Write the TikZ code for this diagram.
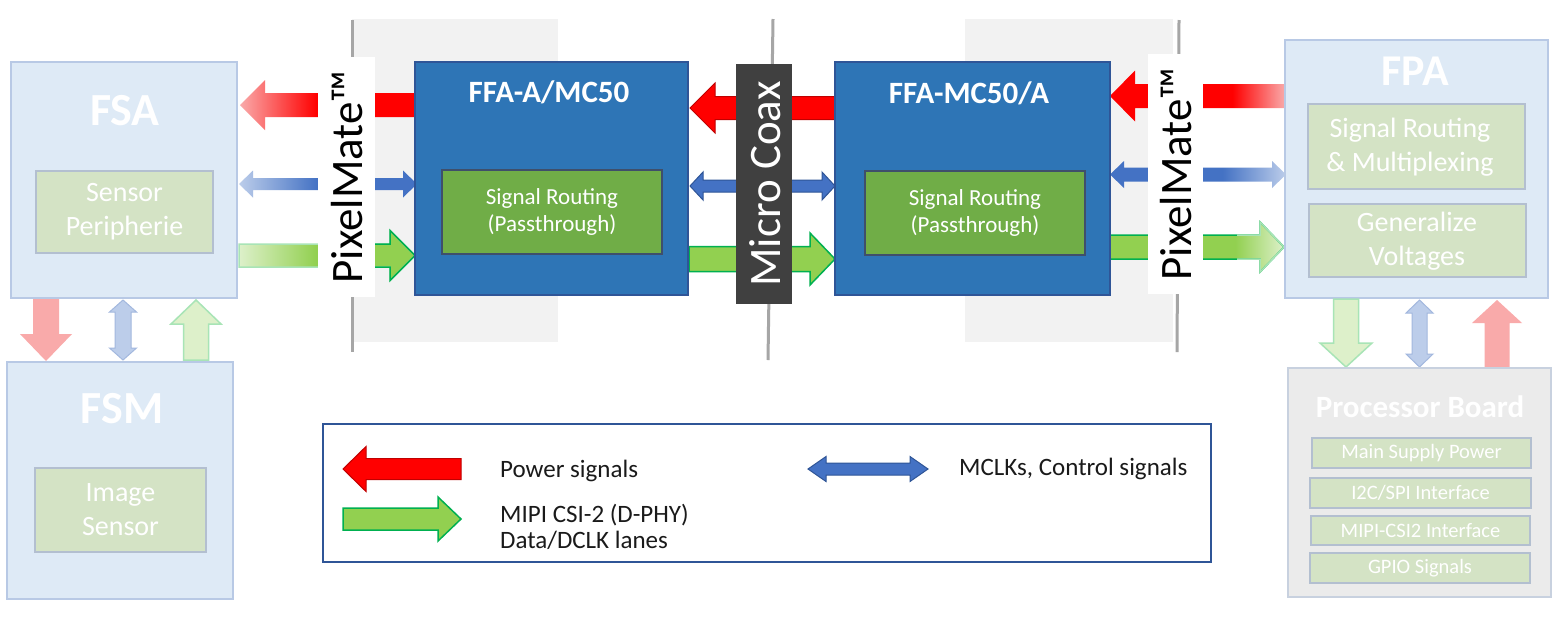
\documentclass[tikz,border=0pt]{standalone}
\usepackage{fontspec}
\setmainfont{Carlito}
\definecolor{lbfill}{HTML}{DEEAF6}
\definecolor{lbdraw}{HTML}{B8C9E5}
\definecolor{lgfill}{HTML}{D4E3C5}
\definecolor{lgdraw}{HTML}{B3BFD0}
\definecolor{pbfill}{HTML}{EBEBEB}
\definecolor{pbdraw}{HTML}{C8D1DF}
\definecolor{ffafill}{HTML}{2E75B6}
\definecolor{ffadraw}{HTML}{2F5597}
\definecolor{sgfill}{HTML}{70AD47}
\definecolor{sgdraw}{HTML}{3F4F6B}
\definecolor{coaxc}{HTML}{404040}
\definecolor{bggrey}{HTML}{F2F2F2}
\definecolor{linegrey}{HTML}{A6A6A6}
\definecolor{cRed}{HTML}{FF0000}
\definecolor{cRedD}{HTML}{C00000}
\definecolor{cPink}{HTML}{F9AAAA}
\definecolor{cBlue}{HTML}{4472C4}
\definecolor{cBlueD}{HTML}{2F5597}
\definecolor{cLblue}{HTML}{BCCDEA}
\definecolor{cLblueD}{HTML}{A3B8DE}
\definecolor{cGreen}{HTML}{92D050}
\definecolor{cGreenD}{HTML}{00B050}
\definecolor{cLgreen}{HTML}{DDF0CA}
\definecolor{cLgreenD}{HTML}{A8E4B6}
\definecolor{legdraw}{HTML}{2F5597}
\definecolor{legtext}{HTML}{1A1A1A}
\pgfdeclarehorizontalshading{fLred}{100bp}{color(0bp)=(cPink); color(25bp)=(cPink); color(47bp)=(cRed); color(100bp)=(cRed)}
\pgfdeclarehorizontalshading{fLblue}{100bp}{color(0bp)=(cLblue); color(25bp)=(cLblue); color(47bp)=(cBlue); color(100bp)=(cBlue)}
\pgfdeclarehorizontalshading{fLgreen}{100bp}{color(0bp)=(cLgreen); color(25bp)=(cLgreen); color(47bp)=(cGreen); color(100bp)=(cGreen)}
\pgfdeclarehorizontalshading{fRred}{100bp}{color(0bp)=(cRed); color(60bp)=(cRed); color(75bp)=(cPink); color(100bp)=(cPink)}
\pgfdeclarehorizontalshading{fRblue}{100bp}{color(0bp)=(cBlue); color(57bp)=(cBlue); color(75bp)=(cLblue); color(100bp)=(cLblue)}
\pgfdeclarehorizontalshading{fRgreen}{100bp}{color(0bp)=(cGreen); color(61bp)=(cGreen); color(75bp)=(cLgreen); color(100bp)=(cLgreen)}
% block arrows: options, x1, x2, yc, shaft half, head half, head length
\newcommand\blkR[7]{\path[#1] (#2,{#4-#5}) -- ({#3-#7},{#4-#5}) -- ({#3-#7},{#4-#6}) -- (#3,#4) -- ({#3-#7},{#4+#6}) -- ({#3-#7},{#4+#5}) -- (#2,{#4+#5}) -- cycle;}
\newcommand\blkL[7]{\path[#1] (#3,{#4-#5}) -- ({#2+#7},{#4-#5}) -- ({#2+#7},{#4-#6}) -- (#2,#4) -- ({#2+#7},{#4+#6}) -- ({#2+#7},{#4+#5}) -- (#3,{#4+#5}) -- cycle;}
\newcommand\blkLR[7]{\path[#1] (#2,#4) -- ({#2+#7},{#4-#6}) -- ({#2+#7},{#4-#5}) -- ({#3-#7},{#4-#5}) -- ({#3-#7},{#4-#6}) -- (#3,#4) -- ({#3-#7},{#4+#6}) -- ({#3-#7},{#4+#5}) -- ({#2+#7},{#4+#5}) -- ({#2+#7},{#4+#6}) -- cycle;}
% vertical: options, xc, y1(top), y2(bottom), shaft half, head half, head length
\newcommand\blkDn[7]{\path[#1] ({#2-#5},#3) -- ({#2+#5},#3) -- ({#2+#5},{#4-#7}) -- ({#2+#6},{#4-#7}) -- (#2,#4) -- ({#2-#6},{#4-#7}) -- ({#2-#5},{#4-#7}) -- cycle;}
\newcommand\blkUp[7]{\path[#1] ({#2-#5},#4) -- ({#2+#5},#4) -- ({#2+#5},{#3+#7}) -- ({#2+#6},{#3+#7}) -- (#2,#3) -- ({#2-#6},{#3+#7}) -- ({#2-#5},{#3+#7}) -- cycle;}
\newcommand\blkUD[7]{\path[#1] (#2,#3) -- ({#2+#6},{#3+#7}) -- ({#2+#5},{#3+#7}) -- ({#2+#5},{#4-#7}) -- ({#2+#6},{#4-#7}) -- (#2,#4) -- ({#2-#6},{#4-#7}) -- ({#2-#5},{#4-#7}) -- ({#2-#5},{#3+#7}) -- ({#2-#6},{#3+#7}) -- cycle;}
\tikzset{
  box/.style={inner sep=0pt, outer sep=0pt, anchor=north west},
  lbbox/.style={box, fill=lbfill, draw=lbdraw, line width=2pt},
  lgbox/.style={box, fill=lgfill, draw=lgdraw, line width=2pt},
  pbbox/.style={box, fill=pbfill, draw=pbdraw, line width=2pt},
  ffabox/.style={box, fill=ffafill, draw=ffadraw, line width=2pt},
  sgbox/.style={box, fill=sgfill, draw=sgdraw, line width=2pt},
  wtxt/.style={text=white, inner sep=0pt, align=center},
  bigtitle/.style={wtxt, anchor=base, font=\bfseries\fontsize{46}{50}\selectfont},
  midtitle/.style={wtxt, anchor=base, font=\bfseries\fontsize{31}{36}\selectfont},
  lgtxt/.style={wtxt, font=\fontsize{28}{34}\selectfont},
  sgtxt/.style={wtxt, font=\fontsize{23}{27}\selectfont},
  pbtxt/.style={wtxt, font=\fontsize{20.5}{22}\selectfont},
  vtxt/.style={inner sep=0pt, rotate=90, font=\fontsize{45}{50}\selectfont},
  legtxt/.style={text=legtext, inner sep=0pt, anchor=base west, font=\fontsize{25}{27}\selectfont},
}
\begin{document}
\begin{tikzpicture}[x=1pt,y=-1pt]
\useasboundingbox[fill=white] (0,0) rectangle (1562,622);
% background panels
\node[box, fill=bggrey, minimum width=206pt, minimum height=323pt] (bgL) at (352,19) {};
\node[box, fill=bggrey, minimum width=208pt, minimum height=323pt] (bgR) at (965,19) {};
\coordinate (l1a) at (352,20); \coordinate (l1b) at (352,352);
\coordinate (l2a) at (773,19); \coordinate (l2b) at (768,360);
\coordinate (l3a) at (1179,20); \coordinate (l3b) at (1177,352);
\draw[linegrey, line width=3pt] (l1a) -- (l1b);
\draw[linegrey, line width=3pt] (l2a) -- (l2b);
\draw[linegrey, line width=3pt] (l3a) -- (l3b);
% row 1: power (red)
\blkL{shade, shading=fLred}{240}{415}{105}{12}{25}{25}
\blkL{fill=cRed, draw=cRedD, line width=1pt}{690}{835}{108}{11.5}{25}{25}
\blkL{shade, shading=fRred}{1110}{1285}{96}{12}{25.5}{25}
% row 2: control (blue)
\blkLR{shade, shading=fLblue}{239}{417}{184}{6}{13.5}{14}
\blkLR{fill=cBlue, draw=cBlueD, line width=1pt}{690}{835}{186}{6}{14}{13}
\blkLR{shade, shading=fRblue}{1110}{1286}{174.5}{7}{13.5}{14}
% row 3: data (green)
\blkR{shade, shading=fLgreen, draw=cLgreenD, line width=1.5pt}{239}{415}{255.5}{11.5}{25}{25}
\begin{scope}
\clip (318,200) rectangle (430,300);
\blkR{draw=cGreenD, line width=1.5pt}{239}{415}{255.5}{11.5}{25}{25}
\end{scope}
\blkR{fill=cGreen, draw=cGreenD, line width=1.5pt}{689}{835}{259}{12.5}{26}{25}
\blkR{shade, shading=fRgreen, draw=cGreenD, line width=1.5pt}{1110}{1284}{247}{12}{25}{24}
\begin{scope}
\clip (1237,200) rectangle (1300,300);
\blkR{draw=cLgreenD, line width=1.5pt}{1110}{1284}{247}{12}{25}{24}
\end{scope}
% connector labels
\node[box, fill=white, minimum width=57pt, minimum height=240pt] (pmL) at (318,57) {};
\node[vtxt] (pmLt) at (347,177) {PixelMate™};
\node[box, fill=coaxc, minimum width=56pt, minimum height=240pt] (coax) at (736,64) {};
\node[vtxt, text=white] (coaxt) at (765,184) {Micro Coax};
\node[box, fill=white, minimum width=55pt, minimum height=240pt] (pmR) at (1148,54) {};
\node[vtxt] (pmRt) at (1176,174) {PixelMate™};
% FSA / FSM
\node[lbbox, minimum width=226pt, minimum height=236pt] (fsa) at (11,62) {};
\node[bigtitle] (fsat) at (125,125) {FSA};
\node[lgbox, minimum width=177pt, minimum height=82pt] (sp) at (36,171) {};
\node[lgtxt] (spt) at (sp.center) {Sensor\\Peripherie};
\node[lbbox, minimum width=226pt, minimum height=237pt] (fsm) at (7,362) {};
\node[bigtitle] (fsmt) at (122,423) {FSM};
\node[lgbox, minimum width=171pt, minimum height=84pt] (is) at (35,468) {};
\node[lgtxt] (ist) at (is.center) {Image\\Sensor};
% vertical arrows FSA-FSM
\blkDn{fill=cPink}{46}{299}{361}{13}{26}{27}
\blkUD{fill=cLblue, draw=cLblueD, line width=1pt}{123}{300}{360}{8}{13.5}{12}
\blkUp{fill=cLgreen, draw=cLgreenD, line width=1.5pt}{196}{300}{360}{12.5}{25}{24}
% FFA boards
\node[ffabox, minimum width=273pt, minimum height=233pt] (ffa1) at (415,62) {};
\node[midtitle] (ffa1t) at (549,102) {FFA-A/MC50};
\node[sgbox, minimum width=220pt, minimum height=84pt] (sr1) at (442,170) {};
\node[sgtxt] (sr1t) at (sr1.center) {Signal Routing\\(Passthrough)};
\node[ffabox, minimum width=275pt, minimum height=233pt] (ffa2) at (835,62) {};
\node[midtitle] (ffa2t) at (969,103) {FFA-MC50/A};
\node[sgbox, minimum width=220pt, minimum height=84pt] (sr2) at (865,171) {};
\node[sgtxt] (sr2t) at (sr2.center) {Signal Routing\\(Passthrough)};
% FPA
\node[lbbox, minimum width=263pt, minimum height=258pt] (fpa) at (1285,40) {};
\node[bigtitle, font=\bfseries\fontsize{44}{48}\selectfont] (fpat) at (1415,85) {FPA};
\node[lgbox, minimum width=217pt, minimum height=85pt] (srm) at (1308,104) {};
\node[lgtxt] (srmt) at (1410,147) {Signal Routing\\\& Multiplexing};
\node[lgbox, minimum width=217pt, minimum height=73pt] (gv) at (1309,204) {};
\node[lgtxt] (gvt) at (1417,241) {Generalize\\Voltages};
% vertical arrows FPA-PB
\blkDn{fill=cLgreen, draw=cLgreenD, line width=1.5pt}{1346}{299}{367}{12.5}{26}{24}
\blkUD{fill=cLblue, draw=cLblueD, line width=1pt}{1419.5}{300}{367}{7.5}{13.5}{13}
\blkUp{fill=cPink}{1497}{300}{368}{12.5}{25}{23}
% Processor board
\node[pbbox, minimum width=263pt, minimum height=229pt] (pb) at (1288,368) {};
\node[midtitle] (pbt) at (1420,417) {Processor Board};
\node[lgbox, minimum width=219pt, minimum height=30pt] (pb1) at (1312,438) {};
\node[pbtxt] (pb1t) at (pb1.center) {Main Supply Power};
\node[lgbox, minimum width=221pt, minimum height=30pt] (pb2) at (1310,478) {};
\node[pbtxt] (pb2t) at (pb2.center) {I2C/SPI Interface};
\node[lgbox, minimum width=219pt, minimum height=29pt] (pb3) at (1311,516) {};
\node[pbtxt] (pb3t) at (pb3.center) {MIPI-CSI2 Interface};
\node[lgbox, minimum width=220pt, minimum height=30pt] (pb4) at (1310,553) {};
\node[pbtxt] (pb4t) at (pb4.center) {GPIO Signals};
% legend
\node[box, draw=legdraw, line width=2pt, minimum width=888pt, minimum height=138pt] (leg) at (323,424) {};
\blkL{fill=cRed, draw=cRedD, line width=1pt}{343}{461}{469}{10.5}{22.5}{23}
\node[legtxt] (lg1) at (500,477) {Power signals};
\blkR{fill=cGreen, draw=cGreenD, line width=1.5pt}{343}{461}{519}{11}{22}{23}
\node[legtxt] (lg2) at (500,522) {MIPI CSI-2 (D-PHY)};
\node[legtxt] (lg3) at (500,548) {Data/DCLK lanes};
\blkLR{fill=cBlue, draw=cBlueD, line width=1pt}{808}{928}{469}{6}{12.5}{18}
\node[legtxt] (lg4) at (959,475) {MCLKs, Control signals};
\end{tikzpicture}
\end{document}
